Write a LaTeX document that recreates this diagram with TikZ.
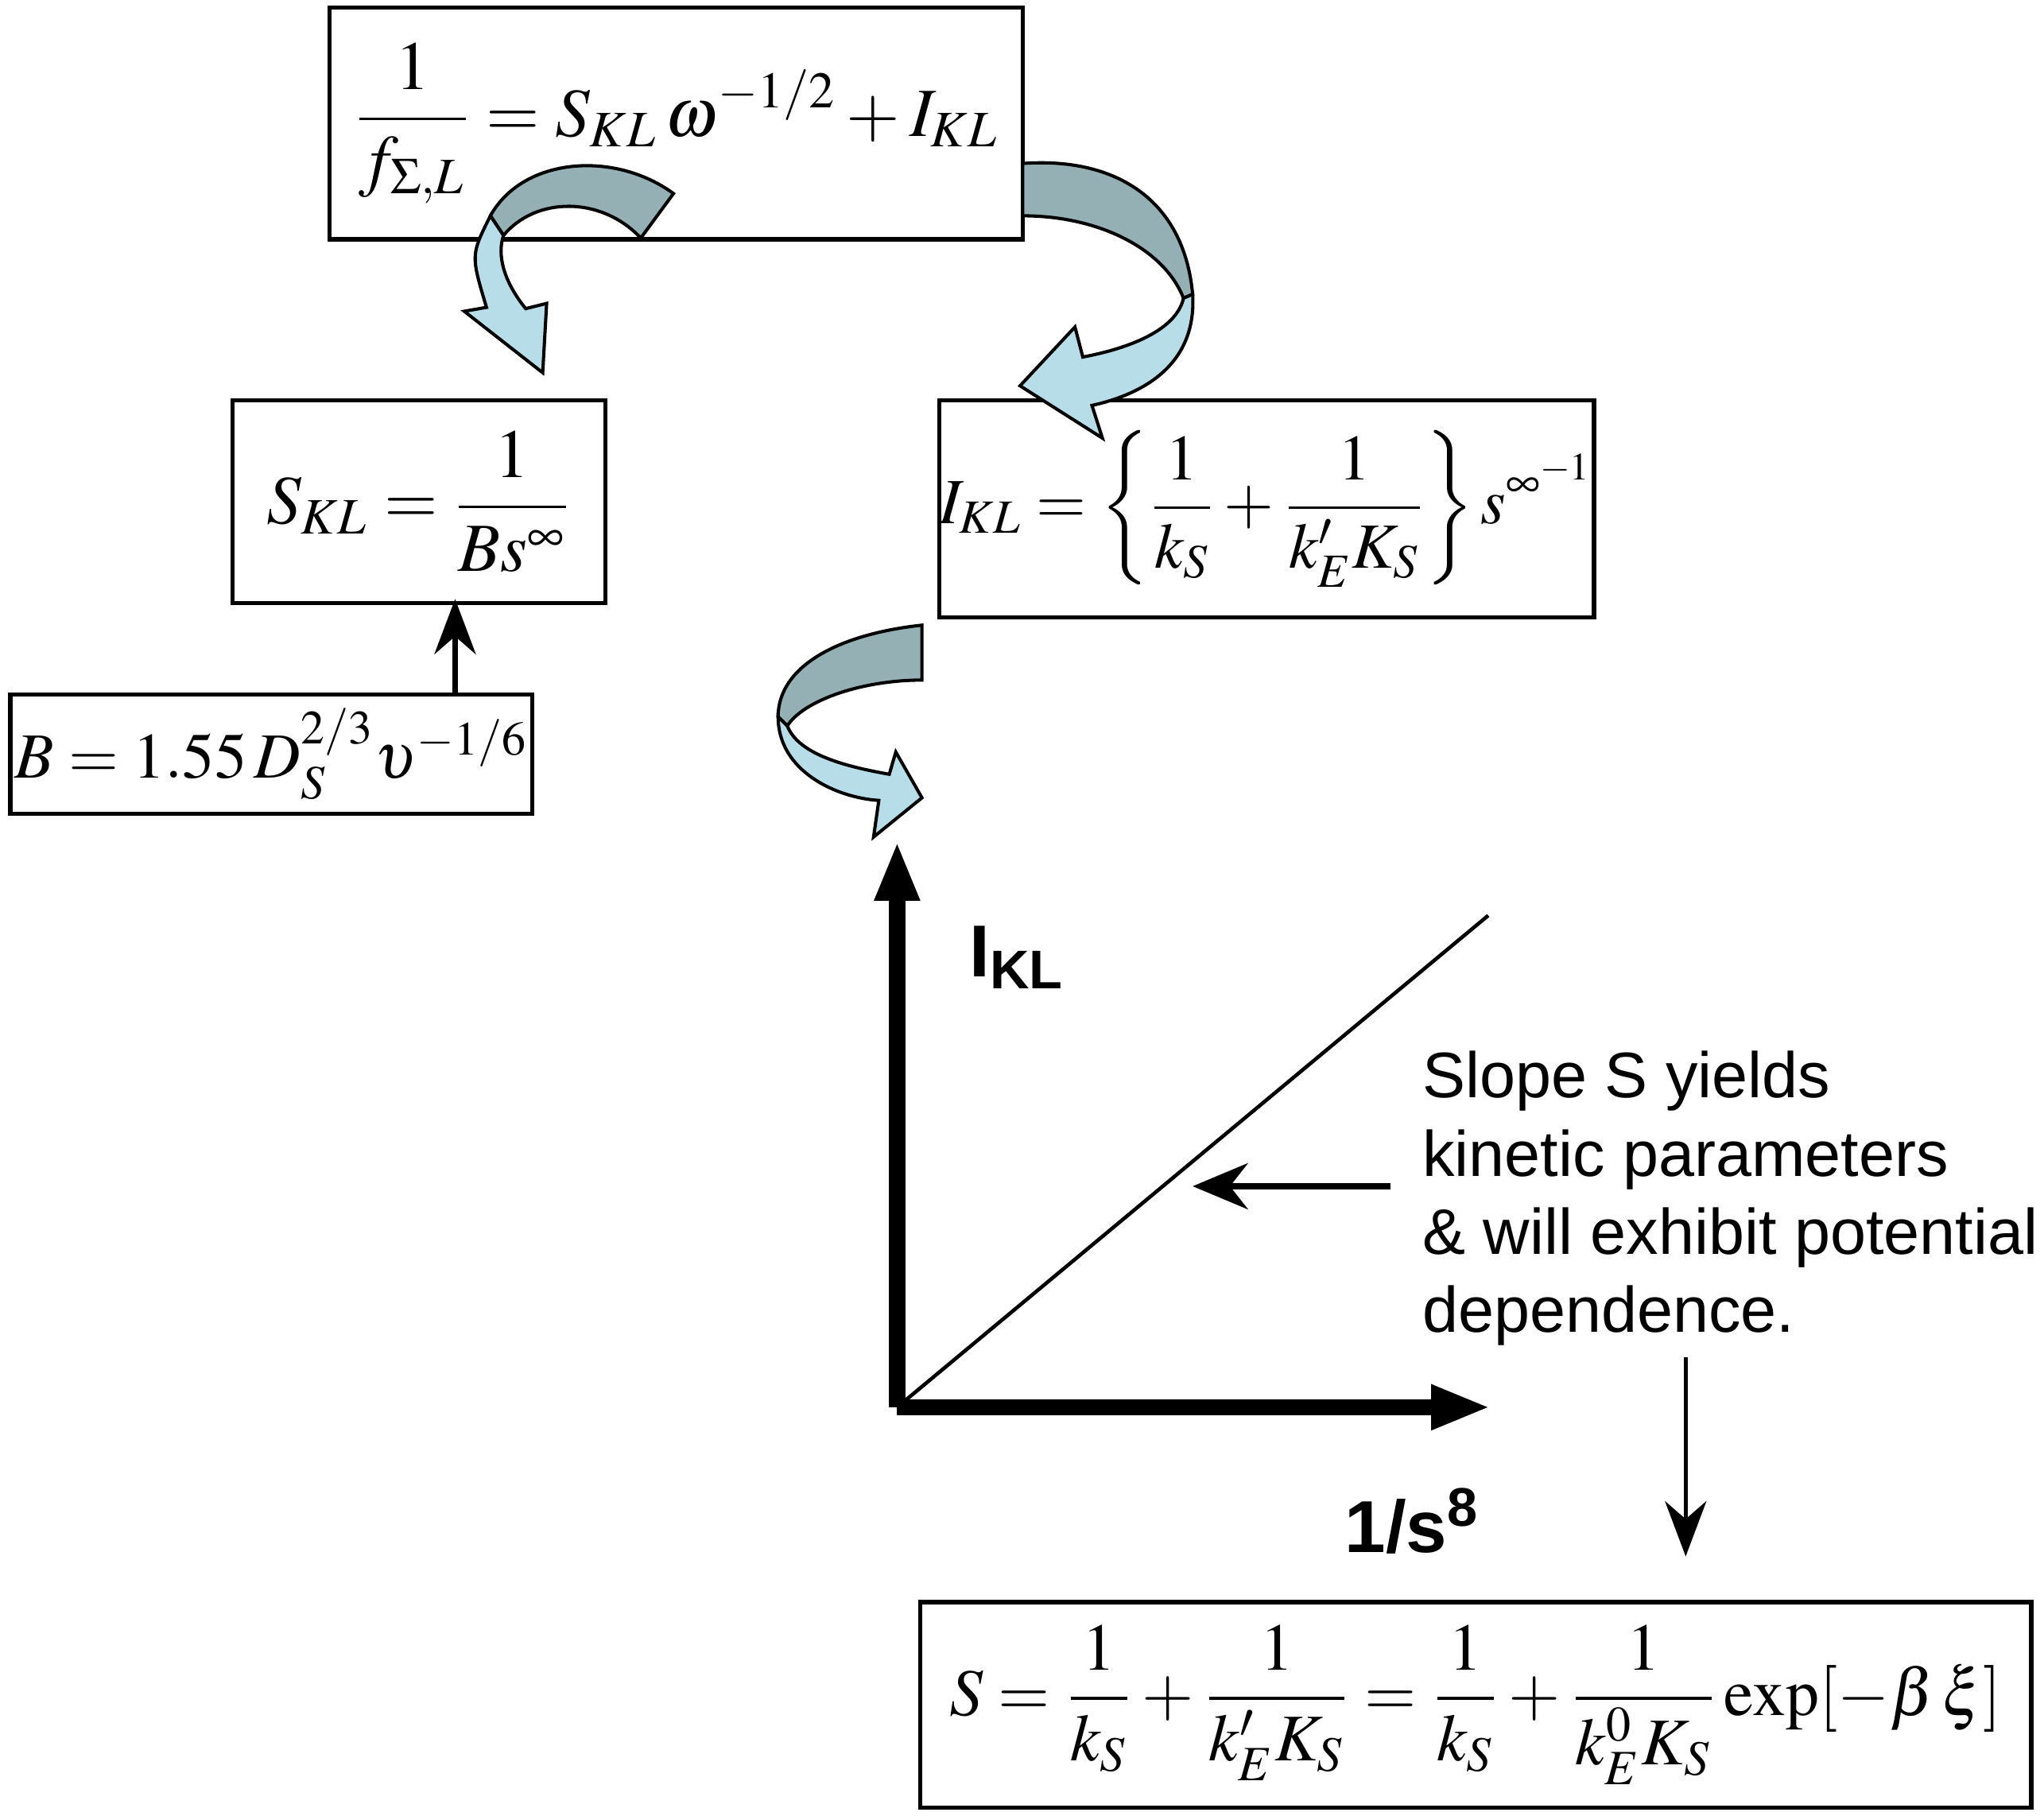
\documentclass[tikz,border=0pt]{standalone}
\usepackage{fontspec}
\usepackage{mathptmx}
\setmainfont{Liberation Serif}
\newfontfamily\labelfont{Liberation Sans}
\usetikzlibrary{arrows.meta}
\begin{document}
\begin{tikzpicture}[x=0.01cm,y=-0.01cm,
  eqbox/.style={draw,line width=0.9pt,inner sep=0pt},
  ribback/.style={fill={rgb,255:red,148;green,176;blue,180},draw=black,line width=0.7pt},
  ribfront/.style={fill={rgb,255:red,183;green,222;blue,232},draw=black,line width=0.7pt},
  txt/.style={font=\labelfont\fontsize{14}{17}\selectfont,align=left,inner sep=0pt}]
\useasboundingbox (0,0) rectangle (1563,1388);
% boxes
\node[eqbox,minimum width=5.3cm,minimum height=1.77cm,font=\fontsize{15}{18}\selectfont] (top) at (517,94.5)
  {$\displaystyle \frac{1}{f_{\Sigma,L}} = S_{KL}\,\omega^{-1/2} + I_{KL}$};
\node[eqbox,minimum width=2.85cm,minimum height=1.55cm,font=\fontsize{15}{18}\selectfont] (skl) at (320.5,383.5)
  {$\displaystyle S_{KL} = \frac{1}{Bs^{\infty}}$};
\node[eqbox,minimum width=4.95cm,minimum height=1.66cm,font=\fontsize{14}{17}\selectfont] (ikl) at (968.5,389)
  {$\displaystyle I_{KL} = \left\{\frac{1}{k_S}+\frac{1}{k'_E K_S}\right\} s^{\infty^{-1}}$};
\node[eqbox,minimum width=3.99cm,minimum height=0.91cm,font=\fontsize{14}{17}\selectfont] (bb) at (207.5,576.5)
  {$B = 1.55\,D_S^{2/3}\upsilon^{-1/6}$};
\node[eqbox,minimum width=8.49cm,minimum height=1.57cm,font=\fontsize{14.5}{17}\selectfont] (sb) at (1128.5,1303.5)
  {$\displaystyle S=\frac{1}{k_S}+\frac{1}{k'_E K_S}=\frac{1}{k_S}+\frac{1}{k_E^0 K_S}\exp[-\beta\,\xi]$};
% ribbon arrows
\draw[ribback] (515,148) .. controls (470,115) and (400,120) .. (375,165) -- (385,180) .. controls (410,150) and (460,150) .. (490,182) -- cycle;
\draw[ribfront] (375,165) .. controls (360,195) .. (372,235) -- (355,238) -- (415,285) -- (418,232) -- (402,236) .. controls (385,215) and (380,195) .. (385,180) -- cycle;
\draw[ribback] (782,125) .. controls (850,120) and (905,150) .. (912,225) -- (905,228) .. controls (890,190) and (840,165) .. (782,165) -- cycle;
\draw[ribfront] (912,225) .. controls (915,275) and (880,300) .. (835,310) -- (843,335) -- (780,295) -- (822,250) -- (828,273) .. controls (870,265) and (900,250) .. (905,228) -- cycle;
\draw[ribback] (705,478) .. controls (640,485) and (595,510) .. (595,548) -- (602,555) .. controls (615,535) and (660,520) .. (705,520) -- cycle;
\draw[ribfront] (595,548) .. controls (595,590) and (640,610) .. (672,612) -- (668,640) -- (705,610) -- (685,575) -- (680,592) .. controls (640,585) and (610,575) .. (602,555) -- cycle;
% plot
\coordinate (o) at (686,1076);
\coordinate (ytop) at (686,643);
\coordinate (xend) at (1140,1076);
\coordinate (lend) at (1138,700);
\draw[line width=3.5pt,-{Triangle[length=13pt,width=9pt]}] (o) -- (ytop);
\draw[line width=3.5pt,-{Triangle[length=13pt,width=9pt]}] (o) -- (xend);
\draw[line width=0.8pt] (o) -- (lend);
\node[font=\labelfont\bfseries\fontsize{16}{19}\selectfont] (ylab) at (778,732) {I\textsubscript{KL}};
\node[font=\labelfont\bfseries\fontsize{16}{19}\selectfont] (xlab) at (1080,1163) {1/s\textsuperscript{8}};
\node[txt,anchor=north west] (slope) at (1087,803) {Slope S yields\\kinetic parameters\\\& will exhibit potential\\dependence.};
\coordinate (sa) at (1063,907);
\coordinate (sae) at (912,907);
\draw[line width=1.4pt,-{Stealth[length=12pt,width=10pt]}] (sa) -- (sae);
\coordinate (da) at (1289,1038);
\draw[line width=0.9pt,-{Stealth[length=12pt,width=9pt]}] (da) -- (1289,1190);
\draw[line width=1.2pt,-{Stealth[length=12pt,width=9pt]}] (bb.north -| 348,0) -- (348,458);
\end{tikzpicture}
\end{document}
